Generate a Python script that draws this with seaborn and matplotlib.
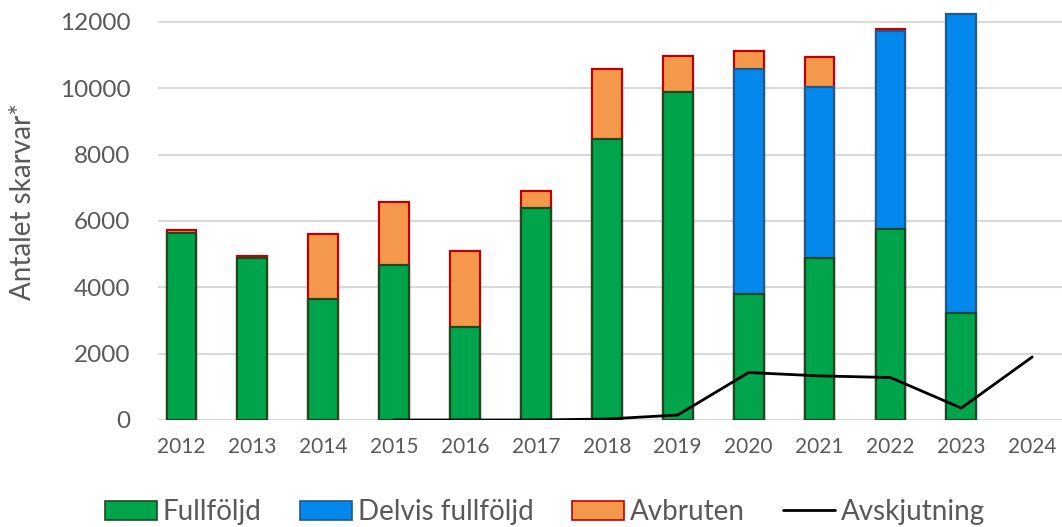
import numpy as np
import matplotlib
matplotlib.use("Agg")
import matplotlib.pyplot as plt
from matplotlib.patches import Patch
from matplotlib.lines import Line2D
import seaborn as sns

# data
years = ["2012", "2013", "2014", "2015", "2016", "2017", "2018",
         "2019", "2020", "2021", "2022", "2023", "2024"]
fullfoljd = [5650, 4880, 3650, 4670, 2800, 6390, 8470, 9890, 3800, 4880, 5760, 3230, np.nan]
delvis = [0, 0, 0, 0, 0, 0, 0, 0, 6780, 5160, 5970, 9010, np.nan]
avbruten = [80, 70, 1960, 1900, 2300, 510, 2110, 1080, 540, 900, 60, 0, np.nan]
avsk_years = ["2015", "2016", "2017", "2018", "2019", "2020", "2021", "2022", "2023", "2024"]
avskjutning = [0, 0, 0, 30, 150, 1430, 1330, 1280, 360, 1900]

sns.set_theme(style="white")
plt.rcParams['font.family'] = ['Lato', 'DejaVu Sans']
txt = "#595959"

green = np.array(fullfoljd, dtype=float)
blue_top = green + np.array(delvis, dtype=float)
total = blue_top + np.array(avbruten, dtype=float)
blue_top = np.where(np.array(delvis) > 0, blue_top, np.nan)
total = np.where(np.array(avbruten) > 0, total, np.nan)

fig = plt.figure(figsize=(10.62, 5.27), dpi=100)
ax = fig.add_axes([158 / 1062, 1 - 420 / 527, (1062 - 158) / 1062, 418 / 527])

w = 0.42
sns.barplot(x=years, y=total, order=years, color="#f4994b", edgecolor="#c00000",
            linewidth=1.6, width=w, saturation=1, ax=ax, zorder=3)
sns.barplot(x=years, y=blue_top, order=years, color="#0389ee", edgecolor="#1f5a8a",
            linewidth=1.6, width=w, saturation=1, ax=ax, zorder=3)
sns.barplot(x=years, y=green, order=years, color="#00a44a", edgecolor="#1b4a22",
            linewidth=1.6, width=w, saturation=1, ax=ax, zorder=3)

xpos = [years.index(y) for y in avsk_years]
sns.lineplot(x=xpos, y=avskjutning, color="black", linewidth=2, ax=ax, zorder=4)

ax.set_xlim(-0.33, 12.42)
ax.set_ylim(0, 12600)
ax.set_yticks(range(0, 12001, 2000))
ax.yaxis.grid(True, color="#d9d9d9", linewidth=1.5, zorder=0)
ax.set_axisbelow(True)
for s in ax.spines.values():
    s.set_visible(False)
ax.tick_params(axis="y", labelsize=17.5, colors=txt, length=0, pad=20)
ax.tick_params(axis="x", labelsize=15, colors=txt, length=0, pad=12)
ax.set_xlabel("")
ax.set_ylabel("Antalet skarvar*", fontsize=20, color=txt)
ax.yaxis.set_label_coords((36 - 158) / 904, (420 - 201) / 418)

handles = [
    Patch(facecolor="#00a44a", edgecolor="#1b4a22", linewidth=1.2),
    Patch(facecolor="#0389ee", edgecolor="#1f5a8a", linewidth=1.2),
    Patch(facecolor="#f4994b", edgecolor="#c00000", linewidth=1.2),
    Line2D([], [], color="black", linewidth=2),
]
labels = ["Fullföljd", "Delvis fullföljd", "Avbruten", "Avskjutning"]
fig.legend(handles, labels, loc="center", bbox_to_anchor=(0.513, 1 - 512 / 527), ncol=4,
           frameon=False, fontsize=20, labelcolor=txt, handlelength=1.87,
           handleheight=0.68, handletextpad=0.22, columnspacing=1.37,
           borderpad=0, borderaxespad=0)

fig.savefig("out.png", dpi=100)
